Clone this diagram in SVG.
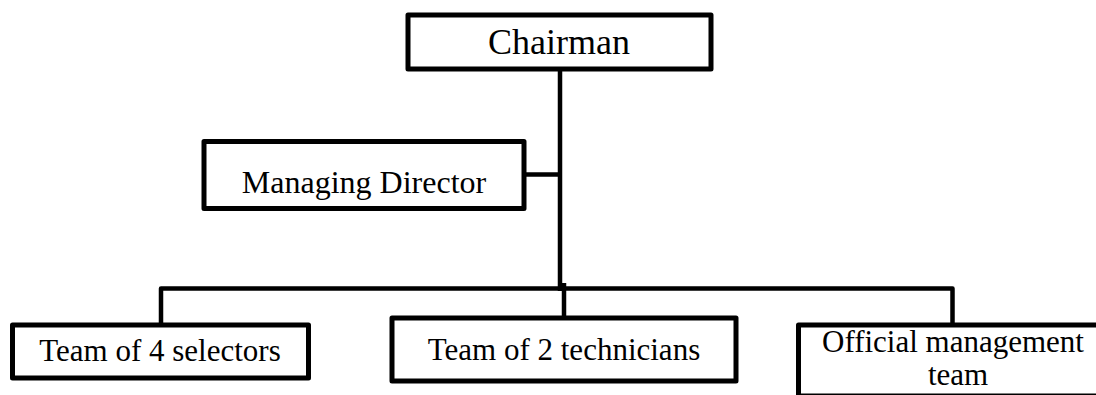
<svg xmlns="http://www.w3.org/2000/svg" width="1096" height="395" viewBox="0 0 1096 395">
<style>
.box{fill:#fff;stroke:#000;stroke-width:5;stroke-linejoin:round}
.ln{stroke:#000;stroke-width:4.5;fill:none;stroke-linejoin:round}
.t{font-family:"Liberation Serif","Times New Roman",serif;font-size:31px;fill:#000;text-anchor:middle}
</style>
<rect width="1096" height="395" fill="#fff"/>
<g id="connectors">
<line class="ln" x1="560" y1="69" x2="560" y2="291"/>
<line class="ln" x1="524" y1="174.5" x2="560" y2="174.5"/>
<polyline class="ln" points="161,325 161,288.5 952.5,288.5 952.5,325"/>
<line class="ln" x1="564" y1="283" x2="564" y2="318"/>
</g>
<g id="chairman">
<rect class="box" x="408" y="15" width="303" height="54"/>
<text class="t" x="559" y="54" style="font-size:36px">Chairman</text>
</g>
<g id="managing-director">
<rect class="box" x="204" y="141.5" width="320" height="67"/>
<text class="t" x="364" y="193" style="font-size:32px">Managing Director</text>
</g>
<g id="selectors">
<rect class="box" x="12.5" y="325" width="296" height="53"/>
<text class="t" x="160" y="361">Team of 4 selectors</text>
</g>
<g id="technicians">
<rect class="box" x="392" y="318" width="344" height="63"/>
<text class="t" x="564" y="360">Team of 2 technicians</text>
</g>
<g id="official-management">
<rect class="box" x="798.5" y="325" width="310" height="71"/>
<text class="t" x="953" y="352">Official management</text>
<text class="t" x="958" y="385">team</text>
</g>
</svg>
